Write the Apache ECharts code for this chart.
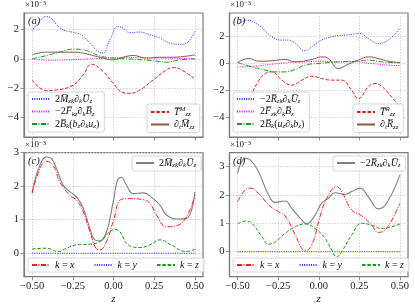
<!DOCTYPE html>
<html><head><meta charset="utf-8">
<script src="https://cdn.jsdelivr.net/npm/echarts@6/dist/echarts.min.js"></script>
<style>html,body{margin:0;padding:0;background:#fff}#c{width:415px;height:308px}</style>
</head><body><div id="c"></div>
<script>
// ---- tick values ----
const zTicks = [-0.5, -0.25, 0, 0.25, 0.5];
const yTicksTop = [-4, -2, 0, 2];
const yTicksBot = [0, 1, 2, 3];

// ---- panel (a) (values in units of 1e-3) ----
const a_MdU = [[-0.5,1.95],[-0.463,2.45],[-0.412,2.92],[-0.32,2.05],[-0.258,1.84],[-0.197,1.65],[-0.145,1.08],[-0.094,0.5],[-0.064,0.4],[-0.023,1.3],[0.029,2.23],[0.059,2.1],[0.10,1.8],[0.162,1.84],[0.223,1.65],[0.285,1.43],[0.346,1.08],[0.408,1.0],[0.449,1.08],[0.5,1.9]];
const a_FdB = [[-0.5,0],[-0.412,-0.1],[-0.289,-0.07],[-0.145,0],[-0.002,0.07],[0.08,0.1],[0.162,0.08],[0.285,0.05],[0.408,0.03],[0.5,0]];
const a_Bbu = [[-0.5,0],[-0.391,0.28],[-0.32,0.5],[-0.248,0.67],[-0.166,0.57],[-0.084,0.2],[-0.002,0.05],[0.08,0],[0.182,-0.07],[0.285,-0.18],[0.326,-0.23],[0.408,-0.07],[0.5,0]];
const a_T = [[-0.5,-1.45],[-0.412,-2.18],[-0.35,-2.14],[-0.248,-1.8],[-0.186,-1.1],[-0.135,-0.37],[-0.064,-0.87],[-0.002,-1.68],[0.059,-2.32],[0.10,-2.37],[0.162,-2.14],[0.244,-1.45],[0.326,-0.76],[0.367,-0.6],[0.418,-0.76],[0.5,-1.38]];
const a_dtM = [[-0.5,0.28],[-0.412,0.46],[-0.32,0.46],[-0.248,0.46],[-0.186,0.39],[-0.084,0.11],[-0.002,-0.07],[0.059,0.11],[0.121,0.23],[0.203,0.05],[0.285,0.11],[0.367,0.11],[0.5,0.28]];

// ---- panel (b) ----
const b_RdU = [[-0.5,2.84],[-0.443,3.2],[-0.371,2.84],[-0.289,1.98],[-0.227,1.73],[-0.186,1.73],[-0.145,1.48],[-0.084,0.94],[-0.043,1.23],[0.018,1.73],[0.08,1.98],[0.121,2.05],[0.203,2.15],[0.254,2.22],[0.305,1.85],[0.367,1.48],[0.428,1.73],[0.5,2.6]];
const b_FdB = [[-0.5,-0.25],[-0.391,-0.2],[-0.289,-0.05],[-0.186,0.07],[-0.084,0.12],[0.018,0.17],[0.121,0.12],[0.223,0.12],[0.326,0],[0.428,-0.12],[0.5,-0.17]];
const b_Bub = [[-0.5,0.07],[-0.412,-0.25],[-0.33,-0.49],[-0.268,-0.62],[-0.207,-0.62],[-0.145,-0.44],[-0.084,-0.12],[-0.002,0],[0.121,0.12],[0.244,0.17],[0.305,0.25],[0.387,0.12],[0.5,0.05]];
const b_T = [[-0.5,-3.09],[-0.473,-3.33],[-0.432,-2.72],[-0.381,-1.48],[-0.33,-0.74],[-0.289,-0.62],[-0.227,-1.23],[-0.166,-1.6],[-0.105,-1.23],[-0.043,-0.94],[0.018,-1.11],[0.08,-1.23],[0.141,-1.23],[0.203,-1.98],[0.244,-2.6],[0.305,-1.73],[0.346,-1.48],[0.387,-1.68],[0.449,-2.47],[0.5,-3.21]];
const b_dtR = [[-0.5,0.07],[-0.432,0.37],[-0.371,0.17],[-0.289,0.2],[-0.207,0.3],[-0.145,0.12],[-0.043,0.3],[0.018,0.49],[0.059,0.37],[0.121,-0.37],[0.182,-0.05],[0.244,0.25],[0.305,0.49],[0.367,0.37],[0.428,0.17],[0.5,0.07]];

// ---- panel (c) ----
const c_total = [[-0.5,1.83],[-0.453,2.62],[-0.412,2.87],[-0.381,2.82],[-0.35,2.52],[-0.309,2.03],[-0.268,1.83],[-0.227,1.68],[-0.186,1.34],[-0.145,0.74],[-0.115,0.40],[-0.084,0.37],[-0.043,0.64],[-0.002,1.53],[0.029,2.23],[0.049,2.26],[0.08,2.03],[0.121,1.78],[0.182,1.80],[0.244,1.63],[0.285,1.44],[0.326,1.14],[0.387,1.02],[0.449,1.04],[0.5,1.83]];
const c_kx = [[-0.5,1.78],[-0.453,2.52],[-0.412,2.74],[-0.371,2.62],[-0.33,2.13],[-0.268,1.73],[-0.227,1.58],[-0.186,1.24],[-0.145,0.64],[-0.105,0.13],[-0.084,0.1],[-0.043,0.35],[-0.002,0.94],[0.049,1.61],[0.10,1.63],[0.182,1.6],[0.223,1.49],[0.264,1.14],[0.326,0.79],[0.387,0.82],[0.449,1.09],[0.5,1.73]];
const c_ky = [[-0.5,0],[-0.25,0],[0,0],[0.25,0],[0.5,0]];
const c_kz = [[-0.5,0.13],[-0.412,0.15],[-0.34,0.05],[-0.289,0.15],[-0.227,0.25],[-0.145,0.27],[-0.084,0.35],[-0.023,0.64],[0.008,0.71],[0.039,0.64],[0.09,0.25],[0.162,0.17],[0.223,0.25],[0.285,0.40],[0.346,0.27],[0.449,0.05],[0.5,0.12]];

// ---- panel (d) ----
const d_total = [[-0.5,2.76],[-0.453,3.29],[-0.422,3.24],[-0.371,2.82],[-0.309,2.0],[-0.268,1.74],[-0.207,1.79],[-0.166,1.53],[-0.105,1.12],[-0.074,0.98],[-0.023,1.29],[0.018,1.71],[0.059,1.88],[0.10,2.08],[0.162,2.02],[0.203,2.12],[0.254,2.24],[0.305,1.94],[0.367,1.51],[0.418,1.71],[0.5,2.71]];
const d_kx = [[-0.5,1.76],[-0.453,2.18],[-0.422,2.24],[-0.371,2.06],[-0.309,1.65],[-0.248,1.41],[-0.207,1.26],[-0.145,0.59],[-0.105,0.12],[-0.084,0.04],[-0.043,0.24],[0.008,1.24],[0.049,1.88],[0.111,2.29],[0.141,2.12],[0.203,1.47],[0.264,1.27],[0.326,0.94],[0.367,0.68],[0.418,0.82],[0.5,1.71]];
const d_ky = [[-0.5,0],[-0.25,0],[0,0],[0.25,0],[0.5,0]];
const d_kz = [[-0.5,0.98],[-0.453,1.08],[-0.412,1.0],[-0.35,0.53],[-0.309,0.27],[-0.268,0.35],[-0.207,0.65],[-0.145,0.88],[-0.084,0.98],[-0.023,0.82],[0.039,0.47],[0.08,0.06],[0.111,-0.18],[0.141,0],[0.203,0.59],[0.264,1.0],[0.326,0.94],[0.387,0.82],[0.449,0.88],[0.5,0.98]];

// ---- legend labels (rich text) ----
const LBL = {
  a1: '{r|2}{i|M\u0305}{s|zk}{r|\u2202}{s|k}{i|U\u0305}{s|z}',
  a2: '{r|\u22122}{i|F\u0305}{s|kz}{r|\u2202}{s|k}{i|B\u0305}{s|z}',
  a3: '{r|2}{i|B\u0305}{s|k}{r|(}{i|b}{s|z}{r|\u2202}{s|k}{i|u}{s|z}{r|)}',
  a4: '{i|T\u0305}{p|M}{s|zz}',
  a5: '{r|\u2202}{s|t}{i|M\u0305}{s|zz}',
  b1: '{r|\u22122}{i|R\u0305}{s|zk}{r|\u2202}{s|k}{i|U\u0305}{s|z}',
  b2: '{r|2}{i|F\u0305}{s|zk}{r|\u2202}{s|k}{i|B\u0305}{s|z}',
  b3: '{r|2}{i|B\u0305}{s|k}{r|(}{i|u}{s|z}{r|\u2202}{s|k}{i|b}{s|z}{r|)}',
  b4: '{i|T\u0305}{p|R}{s|zz}',
  b5: '{r|\u2202}{s|t}{i|R\u0305}{s|zz}',
  c1: '{r|2}{i|M\u0305}{s|zk}{r|\u2202}{s|k}{i|U\u0305}{s|z}',
  c2: '{i|k}{r| = }{i|x}', c3: '{i|k}{r| = }{i|y}', c4: '{i|k}{r| = }{i|z}',
  d1: '{r|\u22122}{i|R\u0305}{s|zk}{r|\u2202}{s|k}{i|U\u0305}{s|z}',
  d2: '{i|k}{r| = }{i|x}', d3: '{i|k}{r| = }{i|y}', d4: '{i|k}{r| = }{i|z}'
};

const F = '"Liberation Serif", "DejaVu Serif", serif';
const AX = '#7a7a7a';
const rich = {
  r: {fontFamily: F, fontSize: 10, lineHeight: 12, color: '#111'},
  i: {fontFamily: F, fontSize: 10, fontStyle: 'italic', lineHeight: 12, color: '#111'},
  s: {fontFamily: F, fontSize: 7, fontStyle: 'italic', verticalAlign: 'bottom', color: '#111'},
  p: {fontFamily: F, fontSize: 7, fontStyle: 'italic', verticalAlign: 'top', color: '#111'}
};

const grids = [
  {left: 24, top: 13, width: 179, height: 124},
  {left: 229.5, top: 13, width: 178.5, height: 124},
  {left: 24, top: 152.7, width: 179, height: 124},
  {left: 229.5, top: 152.7, width: 178.5, height: 124}
];
const yRanges = [[-5.37, 3.15], [-5.43, 3.73], [-0.70, 3.0], [-0.88, 3.49]];

const fmtNum = v => (v < 0 ? '\u2212' : '') + Math.abs(v);
const fmtZ = v => (v < 0 ? '\u2212' : '') + Math.abs(v).toFixed(2);

const xAxes = grids.map((g, i) => ({
  type: 'value', gridIndex: i, min: -0.55, max: 0.55,
  axisLine: {show: true, onZero: false, lineStyle: {color: AX, width: 1.2}},
  axisTick: {show: true, length: 3.5, customValues: zTicks, lineStyle: {color: AX, width: 0.8}},
  axisLabel: {show: i >= 2, customValues: zTicks, formatter: fmtZ, margin: 4,
    fontFamily: F, fontSize: 10.5, color: '#222'},
  splitLine: {show: true, lineStyle: {color: '#c8c8c8', type: [1.5, 1.5], width: 0.8}},
  name: i >= 2 ? 'z' : '', nameLocation: 'middle', nameGap: 17,
  nameTextStyle: {fontFamily: F, fontSize: 11, fontStyle: 'italic', color: '#222'}
}));
const yAxes = grids.map((g, i) => ({
  type: 'value', gridIndex: i, min: yRanges[i][0], max: yRanges[i][1],
  axisLine: {show: true, onZero: false, lineStyle: {color: AX, width: 1.2}},
  axisTick: {show: true, length: 3.5, customValues: i < 2 ? yTicksTop : yTicksBot, lineStyle: {color: AX, width: 0.8}},
  axisLabel: {customValues: i < 2 ? yTicksTop : yTicksBot, formatter: fmtNum, margin: 5,
    fontFamily: F, fontSize: 10.5, color: '#222'},
  splitLine: {show: true, lineStyle: {color: '#c8c8c8', type: [1.5, 1.5], width: 0.8}}
}));

function line(name, idx, data, color, type, width) {
  return {name, type: 'line', xAxisIndex: idx, yAxisIndex: idx, data,
    symbol: 'none', smooth: 0.45, animation: false,
    lineStyle: {color, type, width: width || 1}, itemStyle: {color}};
}
const DOT = [1, 1.3], DASH = [3.5, 1.8], DASHDOT = [5, 1.5, 1, 1.5];
const series = [
  line('a1', 0, a_MdU, '#2b2bff', DOT),
  line('a2', 0, a_FdB, '#ff00ff', DOT),
  line('a3', 0, a_Bbu, '#1a9a1a', DASHDOT),
  line('a4', 0, a_T, '#e31a1a', DASH),
  line('a5', 0, a_dtM, '#8c564b', 'solid'),
  line('b1', 1, b_RdU, '#2b2bff', DOT),
  line('b2', 1, b_FdB, '#ff00ff', DOT),
  line('b3', 1, b_Bub, '#1a9a1a', DASHDOT),
  line('b4', 1, b_T, '#e31a1a', DASH),
  line('b5', 1, b_dtR, '#8c564b', 'solid'),
  line('c1', 2, c_total, '#808080', 'solid', 1.1),
  line('c2', 2, c_kx, '#ff1a1a', DASHDOT),
  line('c3', 2, c_ky, '#2b2bff', DOT),
  line('c4', 2, c_kz, '#1a9a1a', DASH),
  line('d1', 3, d_total, '#808080', 'solid', 1.1),
  line('d2', 3, d_kx, '#ff1a1a', DASHDOT),
  line('d3', 3, d_ky, '#2b2bff', DOT),
  line('d4', 3, d_kz, '#1a9a1a', DASH)
];

function legend(data, pos, orient, gap) {
  return Object.assign({
    data, orient, itemGap: gap, itemWidth: 18, itemHeight: 8,
    padding: [2, 5, 2, 3], borderColor: '#cccccc', borderWidth: 0.8, borderRadius: 2,
    backgroundColor: 'rgba(255,255,255,0.85)', selectedMode: false,
    itemStyle: {opacity: 0},
    formatter: n => LBL[n], textStyle: {fontFamily: F, fontSize: 10, rich}
  }, pos);
}
const legends = [
  legend(['a1', 'a2', 'a3'], {left: 28, top: 92}, 'vertical', 1.5),
  legend(['a4', 'a5'], {left: 147, top: 104}, 'vertical', 1.5),
  legend(['b1', 'b2', 'b3'], {left: 233, top: 92}, 'vertical', 1.5),
  legend(['b4', 'b5'], {left: 353, top: 104}, 'vertical', 1.5),
  legend(['c1'], {left: 132, top: 156}, 'horizontal', 10),
  legend(['c2', 'c3', 'c4'], {left: 28, top: 258}, 'horizontal', 19),
  legend(['d1'], {left: 333, top: 156}, 'horizontal', 10),
  legend(['d2', 'd3', 'd4'], {left: 233, top: 258}, 'horizontal', 19)
];

const expRich = {b: {fontFamily: F, fontSize: 9, color: '#222'}, u: {fontFamily: F, fontSize: 6.5, color: '#222', verticalAlign: 'top'}};
function txt(x, y, text, style) {
  return {type: 'text', left: x, top: y, z: 10, style: Object.assign({text, fontFamily: F, fill: '#222'}, style)};
}
const graphic = [
  txt(25, 0, '{b|\u00d710}{u|\u22123}', {rich: expRich}),
  txt(230, 0, '{b|\u00d710}{u|\u22123}', {rich: expRich}),
  txt(25, 140, '{b|\u00d710}{u|\u22123}', {rich: expRich}),
  txt(230, 140, '{b|\u00d710}{u|\u22123}', {rich: expRich}),
  txt(28, 16, '(a)', {fontSize: 10.5, fontStyle: 'italic'}),
  txt(233, 16, '(b)', {fontSize: 10.5, fontStyle: 'italic'}),
  txt(28, 156, '(c)', {fontSize: 10.5, fontStyle: 'italic'}),
  txt(233, 156, '(d)', {fontSize: 10.5, fontStyle: 'italic'})
];

const chart = echarts.init(document.getElementById('c'), null, {renderer: 'canvas'});
chart.setOption({
  animation: false,
  backgroundColor: '#fff',
  grid: grids.map(g => Object.assign({show: true, borderColor: AX, borderWidth: 1.2, backgroundColor: 'transparent'}, g)),
  xAxis: xAxes, yAxis: yAxes, legend: legends, series, graphic
});
</script></body></html>
